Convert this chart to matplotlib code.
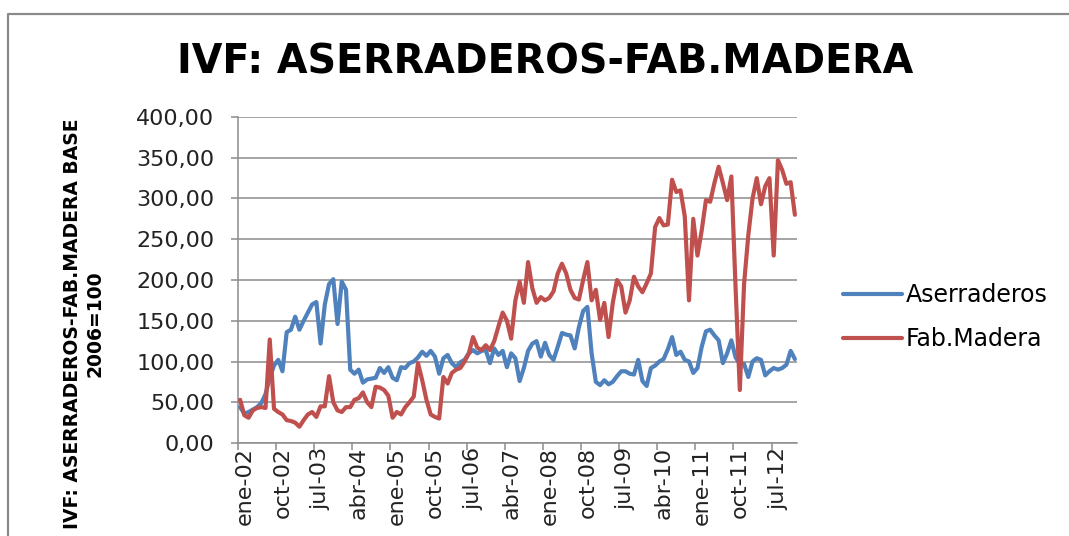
import matplotlib
matplotlib.use("Agg")
import matplotlib.pyplot as plt
from matplotlib.lines import Line2D
from matplotlib.ticker import FuncFormatter, FixedLocator

# ---- data (monthly, ene-02 .. dic-12) ----
aserraderos = [
    44, 36, 38, 41, 44, 49, 60, 80, 95, 102, 88, 136,          # 2002
    139, 155, 139, 150, 160, 170, 173, 122, 170, 195, 201, 146,  # 2003
    198, 188, 90, 85, 90, 74, 78, 79, 80, 92, 86, 93,            # 2004
    80, 77, 93, 92, 98, 100, 105, 112, 107, 113, 106, 85,        # 2005
    104, 108, 98, 93, 99, 102, 110, 114, 110, 113, 114, 98,      # 2006
    116, 108, 113, 93, 110, 104, 76, 92, 113, 122, 125, 106,     # 2007
    123, 108, 102, 118, 135, 133, 132, 116, 142, 162, 167, 110,  # 2008
    75, 71, 77, 72, 75, 82, 88, 88, 85, 84, 102, 76,             # 2009
    70, 92, 95, 100, 103, 115, 130, 108, 112, 102, 100, 86,      # 2010
    92, 118, 137, 139, 132, 126, 98, 110, 126, 105, 97, 97,      # 2011
    81, 100, 104, 102, 83, 88, 92, 90, 92, 96, 113, 103,         # 2012
]
fab_madera = [
    53, 34, 31, 40, 43, 44, 43, 127, 42, 38, 35, 28,             # 2002
    27, 25, 20, 28, 35, 38, 32, 45, 45, 82, 50, 40,              # 2003
    38, 44, 44, 53, 55, 62, 50, 44, 69, 68, 65, 58,              # 2004
    31, 38, 35, 44, 50, 57, 98, 77, 53, 35, 32, 30,              # 2005
    81, 73, 86, 90, 92, 100, 110, 130, 117, 114, 120, 114,       # 2006
    125, 143, 160, 150, 128, 175, 198, 172, 222, 190, 172, 179,  # 2007
    175, 178, 186, 208, 220, 208, 188, 178, 176, 200, 222, 175,  # 2008
    188, 151, 172, 130, 172, 200, 192, 160, 175, 204, 192, 185,  # 2009
    196, 208, 265, 276, 267, 268, 323, 308, 310, 278, 175, 275,  # 2010
    230, 261, 298, 296, 319, 339, 319, 298, 327, 190, 65, 195,   # 2011
    255, 300, 325, 293, 315, 325, 230, 347, 335, 318, 320, 280,  # 2012
]
tick_labels = ["ene-02", "oct-02", "jul-03", "abr-04", "ene-05", "oct-05",
               "jul-06", "abr-07", "ene-08", "oct-08", "jul-09", "abr-10",
               "ene-11", "oct-11", "jul-12"]
label_step = 9
series_names = ["Aserraderos", "Fab.Madera"]
title = "IVF: ASERRADEROS-FAB.MADERA"
ylabel = "IVF: ASERRADEROS-FAB.MADERA BASE\n2006=100"

BLUE = "#4F81BD"
RED = "#C0504D"
GRID = "#8C8C8C"

W, H = 1069, 536
fig = plt.figure(figsize=(W / 100, H / 100), dpi=100)
fig.patch.set_facecolor("white")

L, R, T, B = 238, 797, 117, 443
ax = fig.add_axes([L / W, 1 - B / H, (R - L) / W, (B - T) / H])

n = len(aserraderos)
x = list(range(n))
l1, = ax.plot(x, aserraderos, color=BLUE, lw=3.0, solid_joinstyle="round",
              solid_capstyle="round", label=series_names[0], zorder=3)
l2, = ax.plot(x, fab_madera, color=RED, lw=3.0, solid_joinstyle="round",
              solid_capstyle="round", label=series_names[1], zorder=4)

ax.set_xlim(-0.5, n - 0.5)
ax.set_ylim(0, 400)
ax.set_yticks(range(0, 401, 50))
ax.yaxis.set_major_formatter(FuncFormatter(lambda v, p: f"{v:.2f}".replace(".", ",")))
ax.grid(axis="y", color=GRID, lw=1.1)
ax.set_axisbelow(True)

# x axis: tick marks at category boundaries, labels near categories
bounds = [k * label_step - 0.5 for k in range(len(tick_labels))]
ax.xaxis.set_major_locator(FixedLocator(bounds))
ax.xaxis.set_major_formatter(FuncFormatter(lambda v, p: ""))
lab_pos = [k * label_step + 1.0 for k in range(len(tick_labels))]
ax.xaxis.set_minor_locator(FixedLocator(lab_pos))
ax.set_xticklabels(tick_labels, minor=True)
ax.tick_params(axis="x", which="minor", length=0, pad=3, labelsize=16,
               labelrotation=90)
ax.tick_params(axis="x", which="major", length=5, color=GRID, width=1.1)
ax.tick_params(axis="y", length=5, color=GRID, width=1.1, pad=12, labelsize=16,
               labelcolor="#222222")
for t in ax.get_xticklabels(minor=True):
    t.set_color("#222222")

for s in ["top", "right"]:
    ax.spines[s].set_visible(False)
for s in ["left", "bottom"]:
    ax.spines[s].set_color(GRID)
    ax.spines[s].set_linewidth(1.1)

fig.text(545 / W, 1 - 62 / H, title, ha="center", va="center",
         fontsize=28.5, fontweight="bold", family="DejaVu Sans")

fig.text(84 / W, 1 - 324 / H, ylabel, rotation=90, ha="center", va="center",
         fontsize=13.5, fontweight="bold", linespacing=1.25,
         family="DejaVu Sans")

fig.legend(handles=[l1, l2], loc="center left",
           bbox_to_anchor=(822 / W, 1 - 317 / H), frameon=False,
           fontsize=17, handlelength=2.5, handletextpad=0.15,
           labelspacing=0.85)

# outer chart frame
fig.add_artist(Line2D([8 / W, 8 / W, 1.0], [0.0, 1 - 14 / H, 1 - 14 / H],
                      transform=fig.transFigure, color="#8A8A8A", lw=1.6))

fig.savefig("out.png", dpi=100, facecolor="white")
